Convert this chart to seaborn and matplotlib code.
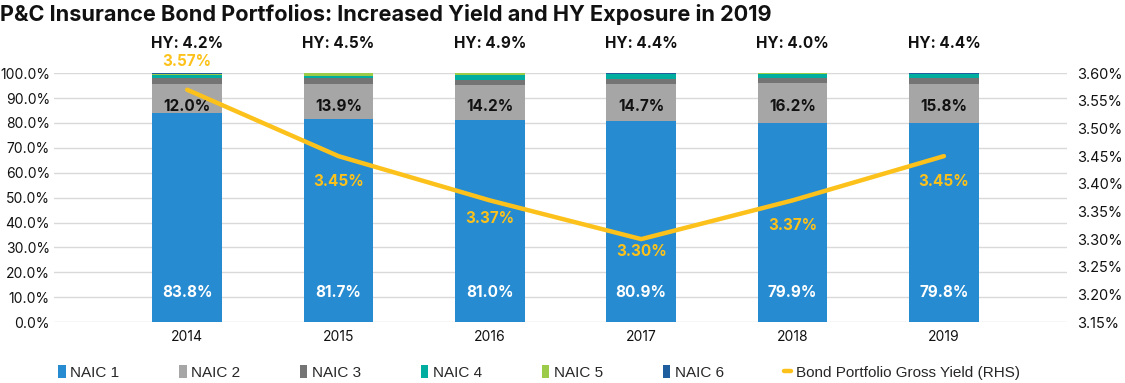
import seaborn as sns
import matplotlib.pyplot as plt
import numpy as np
from matplotlib.patches import Patch
from matplotlib.lines import Line2D
from matplotlib.ticker import FuncFormatter, MultipleLocator

years = ['2014', '2015', '2016', '2017', '2018', '2019']
naic1 = [83.8, 81.7, 81.0, 80.9, 79.9, 79.8]
naic2 = [12.0, 13.9, 14.2, 14.7, 16.2, 15.8]
naic3 = [2.4, 2.3, 2.2, 2.2, 2.0, 2.3]
naic4 = [0.9, 1.0, 1.9, 1.7, 1.5, 1.6]
naic5 = [0.7, 1.0, 0.6, 0.3, 0.3, 0.3]
naic6 = [0.2, 0.2, 0.2, 0.2, 0.2, 0.2]
hy = [4.2, 4.5, 4.9, 4.4, 4.0, 4.4]
gross_yield = [3.57, 3.45, 3.37, 3.30, 3.37, 3.45]

layers = [
    ('NAIC 1', naic1, '#268bd0'),
    ('NAIC 2', naic2, '#a6a6a6'),
    ('NAIC 3', naic3, '#747474'),
    ('NAIC 4', naic4, '#00ad9f'),
    ('NAIC 5', naic5, '#9ccb4a'),
    ('NAIC 6', naic6, '#1e5e9e'),
]
line_color = '#fcc21b'

sns.set_theme(style='white')
plt.rcParams['font.family'] = ['Inter', 'DejaVu Sans']

fig = plt.figure(figsize=(11.25, 3.83), dpi=100)
ax = fig.add_axes([0.048, 0.159, 0.900, 0.650])

bottom = np.zeros(len(years))
for name, vals, color in layers:
    sns.barplot(x=years, y=vals, bottom=bottom, color=color, width=0.46,
                saturation=1, ax=ax, zorder=2, linewidth=0)
    bottom = bottom + np.array(vals)

ax.set_ylim(0, 100)
ax.set_xlim(-0.88, 5.81)
ax.yaxis.set_major_locator(MultipleLocator(10))
ax.yaxis.set_major_formatter(FuncFormatter(lambda v, p: f'{v:.1f}%'))
ax.grid(axis='y', color='#d9d9d9', linewidth=1, zorder=0)
for s in ax.spines.values():
    s.set_visible(False)
ax.tick_params(axis='both', length=0, labelsize=10, colors='#111111')
ax.tick_params(axis='y', pad=3)
ax.tick_params(axis='x', pad=6)

for i in range(len(years)):
    ax.text(i, 12, f'{naic1[i]:.1f}%', ha='center', va='center',
            color='white', fontsize=11, fontweight='bold', zorder=5)
    ax.text(i, 86.5, f'{naic2[i]:.1f}%', ha='center',
            va='center', color='#111111', fontsize=11, fontweight='bold', zorder=5)
    ax.text(i, 112, f'HY: {hy[i]:.1f}%', ha='center', va='center',
            color='#111111', fontsize=11, fontweight='bold', clip_on=False)

ax2 = ax.twinx()
sns.lineplot(x=years, y=gross_yield, ax=ax2, color=line_color, linewidth=3.2,
             zorder=4)
ax2.set_ylim(3.15, 3.60)
ax2.yaxis.set_major_locator(MultipleLocator(0.05))
ax2.yaxis.set_major_formatter(FuncFormatter(lambda v, p: f'{v:.2f}%'))
ax2.tick_params(axis='y', length=0, labelsize=10.5, colors='#111111', pad=8)
for s in ax2.spines.values():
    s.set_visible(False)
ax2.set_ylabel('')
ax.set_xlim(-0.88, 5.81)

offsets = [20, -18, -13, -9, -18, -18]
for i, (v, off) in enumerate(zip(gross_yield, offsets)):
    ax2.annotate(f'{v:.2f}%', (i, v), xytext=(0, off), textcoords='offset points',
                 ha='center', va='center', color=line_color, fontsize=11,
                 fontweight='bold', annotation_clip=False)

fig.text(0.0, 0.963, 'P&C Insurance Bond Portfolios: Increased Yield and HY Exposure in 2019',
         ha='left', va='center', fontsize=15.6, fontweight='bold', color='#111111')

handles = [Patch(facecolor=c, edgecolor='none') for _, _, c in layers]
handles.append(Line2D([0], [0], color=line_color, linewidth=3.2))
labels = [n for n, _, _ in layers] + ['Bond Portfolio Gross Yield (RHS)']
fig.legend(handles, labels, loc='center', bbox_to_anchor=(0.479, 0.028), ncol=7,
           frameon=False, handlelength=0.5, handleheight=1.0,
           columnspacing=3.9, handletextpad=0.3,
           prop={'family': ['Liberation Sans Narrow', 'Liberation Sans'], 'size': 11})

fig.savefig('out.png', dpi=100)
